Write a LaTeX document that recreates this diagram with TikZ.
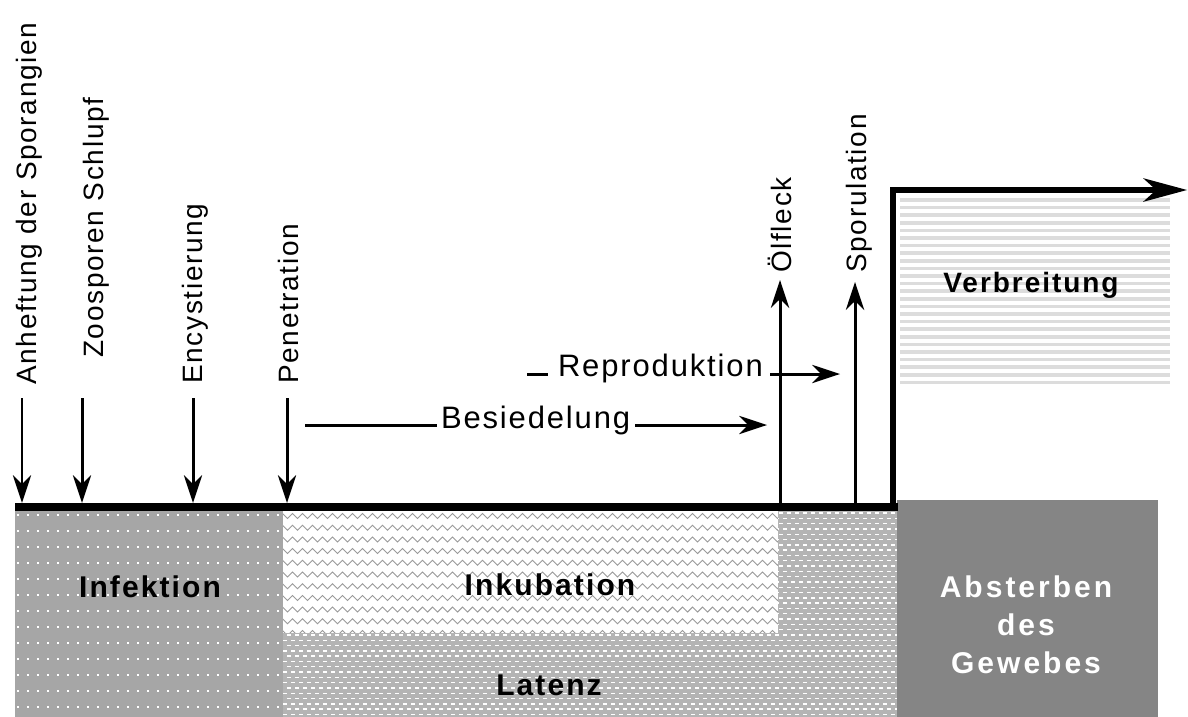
\documentclass[tikz,border=0pt]{standalone}
\usepackage{fontspec}
\setmainfont{Liberation Sans}
\newfontfamily\labfont[LetterSpace=6]{Liberation Sans}
\newfontfamily\boldlab[LetterSpace=7]{Liberation Sans Bold}
\newfontfamily\boldwide[LetterSpace=10]{Liberation Sans Bold}
\usetikzlibrary{arrows.meta,decorations.pathmorphing}
\definecolor{deadgray}{HTML}{858585}
\definecolor{infcol}{HTML}{A6A6A6}
\definecolor{latcol}{HTML}{B4B4B4}
\definecolor{hatchcol}{HTML}{DCDCDC}
\definecolor{wavecol}{HTML}{9A9A9A}
\begin{document}
\begin{tikzpicture}[x=1pt,y=-1pt,
  rlab/.style={rotate=90,anchor=base west,inner sep=0pt,font=\labfont\fontsize{28}{32}\selectfont},
  hlab/.style={anchor=base west,inner sep=0pt,outer sep=0pt,font=\labfont\fontsize{31}{36}\selectfont},
  blab/.style={anchor=base,inner sep=0pt,font=\boldlab\fontsize{30}{36}\selectfont},
  wlab/.style={anchor=base,inner sep=0pt,text=white,font=\boldwide\fontsize{30}{36}\selectfont},
  headshape/.pic={\fill (0,0) -- (-#1,0.33*#1) -- (-0.68*#1,0) -- (-#1,-0.33*#1) -- cycle;},
  bighead/.pic={\fill (0,0) -- (-#1,0.27*#1) -- (-0.7*#1,0) -- (-#1,-0.27*#1) -- cycle;},
  thinline/.style={line width=1.5pt,shorten >=15pt},
  thickline/.style={line width=3pt,shorten >=15pt},
]
\useasboundingbox (0,0) rectangle (1188,717);

% ---- Infektion region
\fill[infcol] (15,511) rectangle (283,717);
\foreach \y in {515,531,...,711}
  \draw[white,line width=1.8pt,dash pattern=on 1.8pt off 8.2pt] (17,\y) -- (283,\y);

% ---- Inkubation region
\fill[white] (283,511) rectangle (778,633);
\begin{scope}
  \clip (283,511) rectangle (778,633);
  \foreach \k in {0,...,10}
    \draw[wavecol,line width=0.9pt,decorate,
      decoration={zigzag,segment length=10pt,amplitude=2.5pt}]
      (280,516+11.7*\k) -- (782,516+11.7*\k);
\end{scope}

% ---- Latenz region
\begin{scope}
  \clip (283,633) rectangle (897,717) (778,511) rectangle (897,633);
  \fill[latcol] (283,511) rectangle (897,717);
  \foreach \k in {0,...,20}{
    \draw[white,line width=1.4pt,dash pattern=on 4pt off 4pt] (283,513+10.6*\k) -- (897,513+10.6*\k);
    \draw[white,line width=1.4pt,dash pattern=on 4pt off 4pt,dash phase=4pt] (283,518.3+10.6*\k) -- (897,518.3+10.6*\k);
  }
\end{scope}

% ---- Absterben region
\fill[deadgray] (897,500) rectangle (1158,717);

% ---- Verbreitung hatch
\foreach \k in {0,...,24}
  \draw[hatchcol,line width=3.5pt] (900,200+7.6*\k) -- (1170,200+7.6*\k);

% ---- base bar
\coordinate (barL) at (15,507);
\coordinate (barR) at (898,507);
\draw[line width=8pt] (barL) -- (barR);

% ---- Verbreitung L-arrow
\coordinate (vB) at (893,511);
\coordinate (vC) at (893,190);
\coordinate (vE) at (1187,190);
\draw[line width=6pt,miter limit=2,shorten >=25pt] (vB) -- (vC) -- (vE);
\pic at (vE) {bighead=44};

% ---- rotated labels
\node[rlab] (anh) at (36,385) {Anheftung der Sporangien};
\node[rlab] (zoo) at (103,358) {Zoosporen Schlupf};
\node[rlab] (enc) at (202,384) {Encystierung};
\node[rlab] (pen) at (298,384) {Penetration};
\node[rlab] (oel) at (791,273) {Ölfleck};
\node[rlab] (spo) at (866,273) {Sporulation};

% ---- down arrows
\coordinate (anhS) at (22,398);  \coordinate (anhE) at (22,503);
\coordinate (zooS) at (82,398);  \coordinate (zooE) at (82,503);
\coordinate (encS) at (193,398); \coordinate (encE) at (193,503);
\coordinate (penS) at (287,398); \coordinate (penE) at (287,503);
\draw[thinline] (anhS) -- (anhE);
\draw[thickline] (zooS) -- (zooE);
\draw[thickline] (encS) -- (encE);
\draw[thickline] (penS) -- (penE);
\foreach \c in {anhE,zooE,encE,penE}
  \pic[rotate=-90] at (\c) {headshape=28};

% ---- up arrows
\coordinate (oelS) at (780,503); \coordinate (oelE) at (780,280);
\coordinate (spoS) at (855,503); \coordinate (spoE) at (855,282);
\draw[thickline] (oelS) -- (oelE);
\draw[thickline] (spoS) -- (spoE);
\foreach \c in {oelE,spoE}
  \pic[rotate=90] at (\c) {headshape=28};

% ---- horizontal labels and arrows
\node[hlab] (bes) at (441,428) {Besiedelung};
\node[hlab] (rep) at (558,376) {Reproduktion};
\coordinate (besA) at (305,425);
\coordinate (besB) at (635,425);
\coordinate (besC) at (767,425);
\draw[line width=3pt] (besA) -- (437,425);
\draw[thickline] (besB) -- (besC);
\pic at (besC) {headshape=28};
\coordinate (repA) at (527,374);
\coordinate (repB) at (770,374);
\coordinate (repC) at (840,374);
\draw[line width=3pt] (repA) -- (548,374);
\draw[thickline] (repB) -- (repC);
\pic at (repC) {headshape=28};

% ---- region labels
\node[blab] (inf) at (150,597) {Infektion};
\node[blab] (ink) at (550,595) {Inkubation};
\node[blab] (lat) at (549,695) {Latenz};
\node[blab,font=\boldlab\fontsize{28}{34}\selectfont] (ver) at (1031,292) {Verbreitung};
\node[wlab] (abs1) at (1026,597) {Absterben};
\node[wlab] (abs2) at (1026,635) {des};
\node[wlab] (abs3) at (1026,673) {Gewebes};
\end{tikzpicture}
\end{document}
